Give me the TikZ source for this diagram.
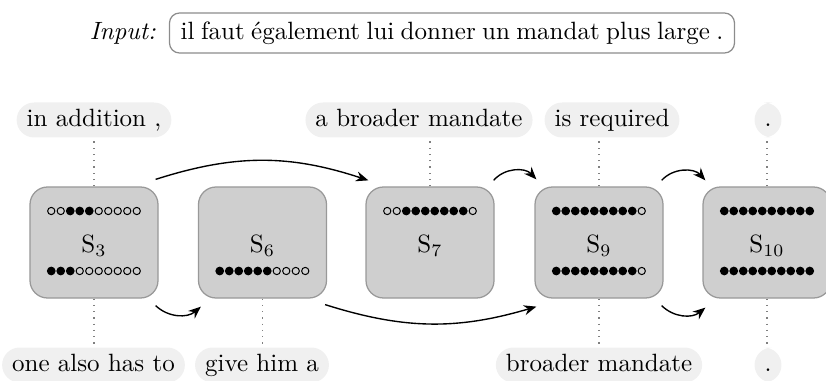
\documentclass[tikz,border=0pt]{standalone}
\usepackage{fontspec}
\usetikzlibrary{arrows.meta}
\newcommand\covdots[3]{%
  \foreach \v [count=\i] in {#3}{%
    \ifnum\v=1 \fill ({#1+(\i-5.5)*9.5},#2) circle (1.75pt);%
    \else \draw[line width=0.4pt] ({#1+(\i-5.5)*9.5},#2) circle (1.45pt);\fi}}
\begin{document}
\begin{tikzpicture}[x=0.4pt,y=0.4pt,
  state/.style={draw=black!40, fill=black!19, rounded corners=7pt, minimum width=51.2pt,
    minimum height=44.4pt, line width=0.5pt, text height=9pt, text depth=0.6pt},
  pill/.style={fill=black!6, rounded corners=7pt, minimum height=14pt, inner xsep=4pt,
    inner ysep=0pt, text height=6.9pt, text depth=1.9pt},
  link/.style={black!50, dotted, line width=0.5pt},
  arr/.style={-{Stealth[length=5pt,width=4pt]}, line width=0.55pt}]
\useasboundingbox (0,0) rectangle (826,380);

% input
\node[draw=black!45, rounded corners=4pt, minimum height=16pt, inner xsep=4.5pt, line width=0.5pt]
  (inp) at (452,347) {\spaceskip=2.55pt plus 1pt minus 1pt il faut également lui donner un mandat plus large .};
\node[anchor=base east, inner sep=0pt] (inl) at ([xshift=-5pt]inp.base west) {\textit{Input:}};

% states
\node[state] (S3)  at (94,137.5)  {S$_3$};
\node[state] (S6)  at (262.5,137.5) {S$_6$};
\node[state] (S7)  at (430,137.5) {S$_7$};
\node[state] (S9)  at (599,137.5) {S$_9$};
\node[state] (S10) at (767,137.5) {S$_{10}$};

\covdots{94}{169}{0,0,1,1,1,0,0,0,0,0}
\covdots{94}{109}{1,1,1,0,0,0,0,0,0,0}
\covdots{262.5}{109}{1,1,1,1,1,1,0,0,0,0}
\covdots{430}{169}{0,0,1,1,1,1,1,1,1,0}
\covdots{599}{169}{1,1,1,1,1,1,1,1,1,0}
\covdots{599}{109}{1,1,1,1,1,1,1,1,1,0}
\covdots{767}{169}{1,1,1,1,1,1,1,1,1,1}
\covdots{767}{109}{1,1,1,1,1,1,1,1,1,1}

% target phrases
\node[pill] (t3)  at (94,260)  {in addition ,};
\node[pill] (t7)  at (419,260) {a broader mandate};
\node[pill] (t9)  at (612,260) {is required};
\node[pill] (t10) at (768,260) {.};
\node[pill] (b3)  at (93.5,15) {one also has to};
\node[pill] (b6)  at (262,15)  {give him a};
\node[pill] (b9)  at (599,15)  {broader mandate};
\node[pill] (b10) at (768,15)  {.};

% dotted links
\draw[link] (S3.north) -- (S3.north |- t3.south);
\draw[link] (S7.north) -- (S7.north |- t7.south);
\draw[link] (S9.north) -- (S9.north |- t9.south);
\draw[link] (S10.north) -- (S10.north |- t10.south);
\draw[link] (S3.south) -- (S3.south |- b3.north);
\draw[link] (S6.south) -- (S6.south |- b6.north);
\draw[link] (S9.south) -- (S9.south |- b9.north);
\draw[link] (S10.south) -- (S10.south |- b10.north);

% transitions
\draw[arr] ([shift={(-3,7)}]S3.north east) to[bend left=18] ([shift={(3,6)}]S7.north west);
\draw[arr] ([shift={(-3,-7)}]S3.south east) to[bend right=42] ([shift={(3,-8)}]S6.south west);
\draw[arr] ([shift={(-2,-6)}]S6.south east) to[bend right=17] ([shift={(2,-8)}]S9.south west);
\draw[arr] ([shift={(-1,6)}]S7.north east) to[bend left=48] ([shift={(2,7)}]S9.north west);
\draw[arr] ([shift={(-2,6)}]S9.north east) to[bend left=48] ([shift={(3,6)}]S10.north west);
\draw[arr] ([shift={(-2,-7)}]S9.south east) to[bend right=42] ([shift={(3,-9)}]S10.south west);
\end{tikzpicture}
\end{document}
